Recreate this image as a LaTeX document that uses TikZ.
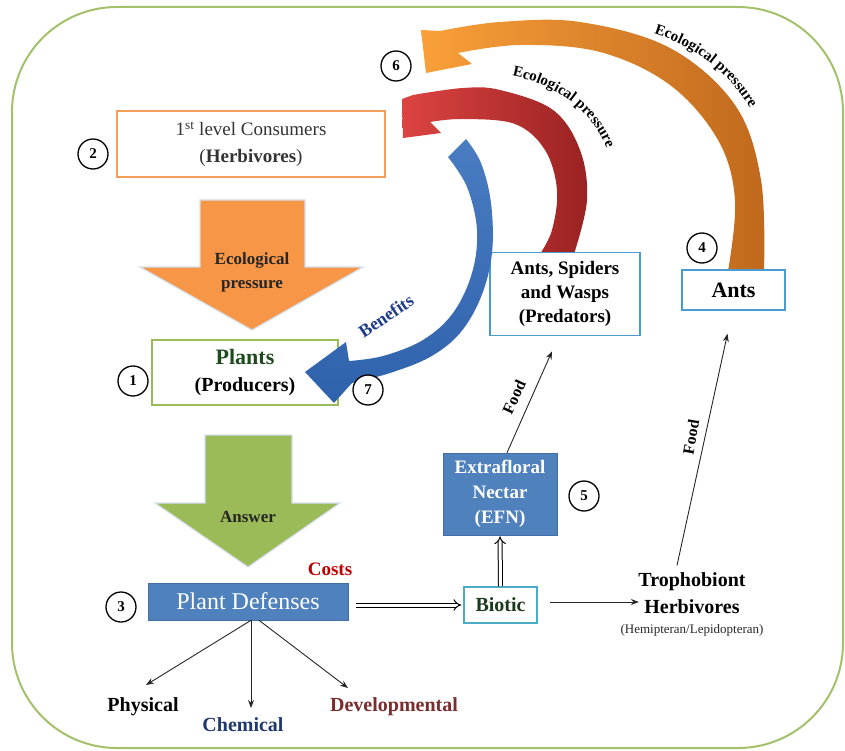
\documentclass[tikz,border=0pt]{standalone}
\usepackage{fontspec}
\setmainfont{Liberation Serif}
\usetikzlibrary{arrows.meta,decorations.text}
\newcommand\fsz[2]{\fontsize{#1}{#2}\selectfont}
\newcommand\arcfont{\bfseries\fontsize{15}{18}\selectfont}
\definecolor{frame}{HTML}{A3C16B}
\definecolor{consorange}{HTML}{F5A05A}
\definecolor{bigorange}{HTML}{F79646}
\definecolor{biggreen}{HTML}{9BBB59}
\definecolor{plantgreen}{HTML}{9BBB59}
\definecolor{plantdark}{HTML}{1E4A1E}
\definecolor{predblue}{HTML}{4A9BD0}
\definecolor{efnblue}{HTML}{4F81BD}
\definecolor{bioticline}{HTML}{4BACC6}
\definecolor{bioticdark}{HTML}{1C3A1C}
\definecolor{costred}{HTML}{C00000}
\definecolor{chemblue}{HTML}{1F3870}
\definecolor{devred}{HTML}{7B2C2C}
\definecolor{benefitblue}{HTML}{1F3C88}
\definecolor{oLight}{HTML}{F9A03A}
\definecolor{oDark}{HTML}{C0691D}
\definecolor{rLight}{HTML}{DC4442}
\definecolor{rDark}{HTML}{9A2222}
\definecolor{bTop}{HTML}{4A7CC2}
\definecolor{bBot}{HTML}{2F62AC}
\definecolor{glow}{HTML}{D5DFEC}
\begin{document}
\begin{tikzpicture}[x=1pt,y=-1pt,
  box/.style={rectangle, inner sep=0pt, align=center},
  num/.style={circle, draw, line width=1.3pt, minimum size=30pt, inner sep=0pt, font=\bfseries\fsz{15}{18}},
  thinarrow/.style={draw=black!85, line width=0.9pt, -{Stealth[length=8pt,width=6pt]}},
  dblarrow/.style={draw=black, double=white, double distance=3pt, line width=1pt, -{Implies[scale=1.4]}},
  label/.style={font=\bfseries\fsz{20}{24}},
]
\useasboundingbox (0,0) rectangle (845,751);
% frame
\begin{scope}
\clip (0,0) rectangle (845,751);
\draw[frame, line width=2pt, rounded corners=105pt] (12,7) rectangle (843,748);
\end{scope}

% big orange down arrow
\fill[bigorange, draw=glow, line width=1.2pt] (200,200) -- (305,200) -- (305,267) -- (363,267) -- (252,330) -- (140,267) -- (200,267) -- cycle;
% big green down arrow
\fill[biggreen, draw=glow, line width=1.2pt] (205,435) -- (292,435) -- (292,503) -- (340,503) -- (248,567) -- (155,503) -- (205,503) -- cycle;

% orange curved arrow (Ants -> 6)
\shade[left color=oLight, right color=oDark]
  plot[smooth, tension=0.6] coordinates {(764,271) (761,180) (735,105) (670,48) (580,22) (500,22) (440,31)}
  -- (421,30) -- (426,73) -- (472,64) -- (458,53)
  -- plot[smooth, tension=0.6] coordinates {(458,53) (520,45) (600,52) (670,85) (718,140) (735,200) (728,271)}
  -- cycle;
% red curved arrow (Predators -> Consumers)
\shade[left color=rLight, right color=rDark]
  plot[smooth, tension=0.6] coordinates {(574,254) (587,200) (580,150) (553,110) (500,90) (463,88) (413,95)}
  -- (402,99) -- (403,138) -- (441,133) -- (430,122)
  -- plot[smooth, tension=0.6] coordinates {(430,122) (463,119) (515,124) (545,150) (557,190) (552,230) (540,254)}
  -- cycle;

% curved labels
\path[decorate, decoration={text along path, text={|\arcfont|Ecological pressure}, text align=center}]
  (624,27) .. controls (690,37) and (738,74) .. (764,136);
\path[decorate, decoration={text along path, text={|\arcfont|Ecological pressure}, text align=center}]
  (488,73) .. controls (553,77) and (601,111) .. (614,172);

% boxes
\node[box, draw=consorange, fill=white, line width=1.5pt, minimum width=268pt, minimum height=66pt, font=\fsz{19}{27}, text=black!80] (cons) at (251,144) {1\textsuperscript{st} level Consumers\\(\textbf{Herbivores})};
\node[box, draw=plantgreen, fill=white, line width=2pt, minimum width=186pt, minimum height=65pt, font=\bfseries\fsz{20}{27}] (plants) at (245,372) {{\color{plantdark}\fsz{22}{27}Plants}\\(Producers)};
\node[box, draw=predblue, fill=white, line width=1.5pt, minimum width=150pt, minimum height=83pt, font=\bfseries\fsz{19}{24}] (pred) at (565,294) {Ants, Spiders\\and Wasps\\(Predators)};
\node[box, draw=predblue, fill=white, line width=1.5pt, minimum width=103pt, minimum height=40pt, font=\bfseries\fsz{22}{26}] (ants) at (733.5,290) {Ants};
\node[box, fill=efnblue, draw=efnblue!85!black, line width=0.6pt, minimum width=114pt, minimum height=82pt, text=white, font=\bfseries\fsz{19}{25}] (efn) at (500,494) {Extrafloral\\Nectar\\(EFN)};
\node[box, fill=efnblue, draw=efnblue!85!black, line width=0.6pt, minimum width=200pt, minimum height=37pt, text=white, font=\fsz{24}{28}] (def) at (248,601.5) {Plant Defenses};
\node[box, draw=bioticline, line width=1.5pt, minimum width=73pt, minimum height=36pt, font=\bfseries\fsz{20}{24}, text=bioticdark] (bio) at (500.5,605) {Biotic};

% blue curved arrow (Benefits), drawn over the Plants box
\shade[top color=bTop, bottom color=bBot]
  (448,157) -- (466,139)
  -- plot[smooth, tension=0.6] coordinates {(466,139) (481,163) (491,203) (492,253) (481,297) (460,333) (430,357) (390,373) (352,383)}
  -- (334,403) -- (305,372) -- (346,342)
  -- plot[smooth, tension=0.6] coordinates {(349,361) (383,356) (423,340) (453,313) (472,273) (477,230) (467,187) (448,157)}
  -- cycle;

% texts
\node[font=\bfseries\fsz{17}{24}, align=center, text=black!85] (eptext) at (252,272) {Ecological\\pressure};
\node[font=\bfseries\fsz{17}{20}, text=black!85] (ans) at (248,517) {Answer};
\node[rotate=34, text=benefitblue, font=\bfseries\fsz{18}{20}] (ben) at (386,316) {Benefits};
\node[text=costred, font=\bfseries\fsz{19}{22}] (costs) at (330,569) {Costs};
\node[label] (tro1) at (692,582) {Trophobiont};
\node[label] (tro2) at (692,607) {Herbivores};
\node[font=\fsz{13}{15}, text=black!85] (tro3) at (692,630) {(Hemipteran/Lepidopteran)};
\node[label] (phys) at (143,707) {Physical};
\node[label, text=chemblue] (chem) at (243,725) {Chemical};
\node[label, text=devred] (dev) at (394,707) {Developmental};
\node[rotate=65, font=\bfseries\fsz{16}{18}] (food1) at (514,397) {Food};
\node[rotate=80, font=\bfseries\fsz{16}{18}] (food2) at (691,437) {Food};

% numbered circles
\node[num] (n1) at (133,381) {1};
\node[num] (n2) at (93,154) {2};
\node[num] (n3) at (121,607) {3};
\node[num] (n4) at (702,248) {4};
\node[num] (n5) at (584,496) {5};
\node[num] (n6) at (396,66) {6};
\node[num, fill=white] (n7) at (368,390) {7};

% connector end points
\coordinate (physTip) at (146,685);
\coordinate (chemTip) at (251,708);
\coordinate (devTip) at (348,688);

% connectors
\draw[thinarrow] ([xshift=3pt]def.south) -- (physTip);
\draw[thinarrow] ([xshift=3pt]def.south) -- (chemTip);
\draw[thinarrow] ([xshift=11pt]def.south) -- (devTip);
\draw[dblarrow, shorten <=8pt, shorten >=2pt] (bio.west -| def.east) -- (bio.west);
\draw[dblarrow, shorten >=1pt] (bio.north) -- (efn.south);
\draw[thinarrow, shorten <=12pt, shorten >=2pt] ([yshift=3pt]bio.east) -- ([yshift=3pt]bio.east -| tro2.west);
\draw[thinarrow] ([xshift=7pt]efn.north) -- ([xshift=-13pt,yshift=-15pt]pred.south);
\draw[thinarrow] ([xshift=-15pt,yshift=4pt]tro1.north) -- ([xshift=-6pt,yshift=-23pt]ants.south);
\end{tikzpicture}
\end{document}
